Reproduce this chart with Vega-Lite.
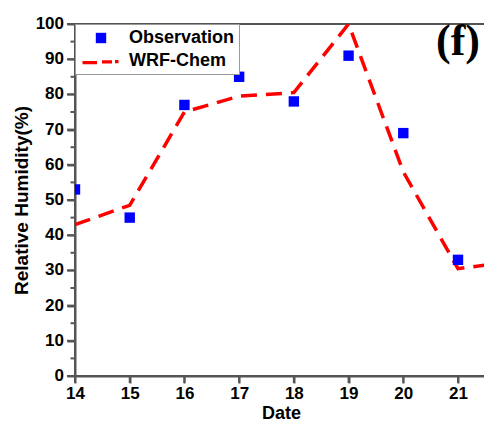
{
  "$schema": "https://vega.github.io/schema/vega-lite/v6.json",
  "width": 412,
  "height": 352,
  "autosize": {"type": "none"},
  "padding": {"left": 75, "top": 24, "right": 0, "bottom": 48},
  "background": "white",
  "config": {
    "view": {"stroke": "#555555", "strokeWidth": 2},
    "font": "Liberation Sans"
  },
  "datasets": {
    "rh": [
      {"date": 14, "value": 53, "series": "Observation"},
      {"date": 15, "value": 45, "series": "Observation"},
      {"date": 16, "value": 77, "series": "Observation"},
      {"date": 17, "value": 85, "series": "Observation"},
      {"date": 18, "value": 78, "series": "Observation"},
      {"date": 19, "value": 91, "series": "Observation"},
      {"date": 20, "value": 69, "series": "Observation"},
      {"date": 21, "value": 33, "series": "Observation"},
      {"date": 14, "value": 43, "series": "WRF-Chem"},
      {"date": 15, "value": 48.5, "series": "WRF-Chem"},
      {"date": 16, "value": 75, "series": "WRF-Chem"},
      {"date": 17, "value": 79.5, "series": "WRF-Chem"},
      {"date": 18, "value": 80.5, "series": "WRF-Chem"},
      {"date": 19, "value": 100, "series": "WRF-Chem"},
      {"date": 20, "value": 58, "series": "WRF-Chem"},
      {"date": 21, "value": 30.5, "series": "WRF-Chem"},
      {"date": 22, "value": 32.5, "series": "WRF-Chem"}
    ],
    "yMajor": [
      {"v": 0}, {"v": 10}, {"v": 20}, {"v": 30}, {"v": 40}, {"v": 50},
      {"v": 60}, {"v": 70}, {"v": 80}, {"v": 90}, {"v": 100}
    ],
    "yMinor": [
      {"v": 5}, {"v": 15}, {"v": 25}, {"v": 35}, {"v": 45},
      {"v": 55}, {"v": 65}, {"v": 75}, {"v": 85}, {"v": 95}
    ],
    "xMajor": [
      {"d": 14}, {"d": 15}, {"d": 16}, {"d": 17}, {"d": 18}, {"d": 19}, {"d": 20}, {"d": 21}
    ]
  },
  "layer": [
    {
      "data": {"name": "rh"},
      "transform": [{"filter": "datum.series === 'WRF-Chem'"}],
      "mark": {"type": "line", "color": "#ff0000", "strokeWidth": 3.5, "strokeDash": [16, 9], "clip": true},
      "encoding": {
        "x": {"field": "date", "type": "quantitative", "scale": {"domain": [14, 21.53], "nice": false, "zero": false},
          "axis": {"title": "Date", "values": [14, 15, 16, 17, 18, 19, 20, 21], "format": "d",
            "ticks": true, "tickSize": 7, "tickWidth": 2, "tickColor": "#555555",
            "domain": true, "domainWidth": 2, "domainColor": "#555555", "grid": false,
            "labelOverlap": false, "labelFlush": false, "labelPadding": 2,
            "labelFont": "Liberation Sans", "labelFontWeight": "bold", "labelFontSize": 17, "labelColor": "#000000",
            "titleFont": "Liberation Sans", "titleFontWeight": "bold", "titleFontSize": 18, "titleColor": "#000000", "titlePadding": 3}},
        "y": {"field": "value", "type": "quantitative", "scale": {"domain": [0, 100], "nice": false},
          "axis": {"title": "Relative Humidity(%)", "labels": false,
            "ticks": true, "tickSize": 8, "tickWidth": 2, "tickColor": "#555555", "tickCount": 10,
            "domain": true, "domainWidth": 2, "domainColor": "#555555", "grid": false,
            "titleFont": "Liberation Sans", "titleFontWeight": "bold", "titleFontSize": 19, "titleColor": "#000000", "titlePadding": 35}}
      }
    },
    {
      "data": {"name": "yMajor"},
      "mark": {"type": "rule", "color": "#555555", "strokeWidth": 2, "clip": false},
      "encoding": {
        "y": {"field": "v", "type": "quantitative"},
        "x": {"datum": 14},
        "x2": {"datum": 13.854}
      }
    },
    {
      "data": {"name": "yMinor"},
      "mark": {"type": "rule", "color": "#555555", "strokeWidth": 2, "clip": false},
      "encoding": {
        "y": {"field": "v", "type": "quantitative"},
        "x": {"datum": 14},
        "x2": {"datum": 13.918}
      }
    },
    {
      "data": {"name": "yMajor"},
      "mark": {"type": "text", "font": "Liberation Sans", "fontWeight": "bold", "fontSize": 17, "align": "right", "baseline": "middle", "dx": -11, "color": "#000000", "clip": false},
      "encoding": {
        "text": {"field": "v", "type": "quantitative"},
        "y": {"field": "v", "type": "quantitative"},
        "x": {"datum": 14}
      }
    },
    {
      "data": {"name": "xMajor"},
      "mark": {"type": "rule", "color": "#555555", "strokeWidth": 2, "clip": false},
      "encoding": {
        "x": {"field": "d", "type": "quantitative"},
        "y": {"datum": 0},
        "y2": {"datum": -2}
      }
    },
    {
      "data": {"name": "rh"},
      "transform": [{"filter": "datum.series === 'Observation'"}],
      "mark": {"type": "point", "filled": true, "opacity": 1, "size": 400, "strokeWidth": 0, "clip": true},
      "encoding": {
        "x": {"field": "date", "type": "quantitative"},
        "y": {"field": "value", "type": "quantitative"},
        "color": {
          "field": "series", "type": "nominal",
          "scale": {"domain": ["Observation", "WRF-Chem"], "range": ["#0000ff", "#ff0000"]},
          "legend": {
            "title": null, "orient": "top-left", "offset": 0,
            "strokeColor": "#999999", "fillColor": "#ffffff", "padding": 4,
            "labelFont": "Liberation Sans", "labelFontWeight": "bold", "labelFontSize": 18, "labelColor": "#000000",
            "symbolOffset": 12, "labelOffset": 18, "symbolSize": 400, "symbolStrokeWidth": 0, "symbolOpacity": 1, "rowPadding": 4
          }
        },
        "shape": {
          "field": "series", "type": "nominal",
          "scale": {"domain": ["Observation", "WRF-Chem"], "range": ["M-0.52,-0.52H0.52V0.52H-0.52Z", "M-1.85,0.0H-0.4V0.33H-1.85Z M0.1,-0.08H1.1V0.25H0.1Z M1.4,-0.1H1.75V0.22H1.4Z"]},
          "legend": {
            "title": null, "orient": "top-left", "offset": 0,
            "strokeColor": "#999999", "fillColor": "#ffffff", "padding": 4,
            "labelFont": "Liberation Sans", "labelFontWeight": "bold", "labelFontSize": 18, "labelColor": "#000000",
            "symbolOffset": 12, "labelOffset": 18, "symbolSize": 400, "symbolStrokeWidth": 0, "symbolOpacity": 1, "rowPadding": 4
          }
        }
      }
    },
    {
      "data": {"values": [{"label": "(f)"}]},
      "mark": {"type": "text", "font": "Liberation Serif", "fontWeight": "bold", "fontSize": 44, "align": "center", "baseline": "middle", "color": "#000000"},
      "encoding": {
        "text": {"field": "label", "type": "nominal"},
        "x": {"datum": 21.0},
        "y": {"datum": 95}
      }
    }
  ]
}
